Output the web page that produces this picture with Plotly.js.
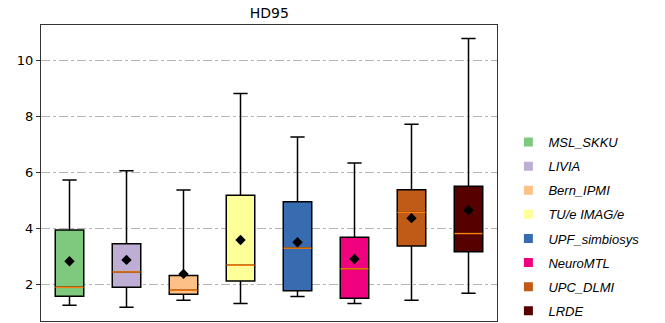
<!DOCTYPE html>
<html><head><meta charset="utf-8">
<script src="https://cdn.plot.ly/plotly-3.0.1.min.js"></script>
<style>html,body{margin:0;padding:0;background:#fff}#chart{width:665px;height:323px}</style>
</head><body><div id="chart"></div>
<script>
const teams = ["MSL_SKKU","LIVIA","Bern_IPMI","TU/e IMAG/e","UPF_simbiosys","NeuroMTL","UPC_DLMI","LRDE"];
const colors = ["#7fc97f","#beaed4","#fdc086","#ffff99","#386cb0","#f0027f","#bf5b17","#560000"];
const lowerFence = [1.25,1.18,1.43,1.31,1.56,1.31,1.43,1.68];
const q1 = [1.57,1.89,1.64,2.12,1.77,1.50,3.37,3.16];
const median = [1.89,2.44,1.79,2.68,3.29,2.55,4.57,3.81];
const q3 = [3.94,3.45,2.31,5.18,4.94,3.68,5.37,5.50];
const upperFence = [5.72,6.05,5.36,8.81,7.25,6.33,7.71,10.77];
const means = [2.82,2.87,2.37,3.58,3.50,2.90,4.36,4.64];
const positions = teams.map((_, i) => i + 1);

const traces = [];
teams.forEach((t, i) => {
  traces.push({
    type: "box", x: [positions[i]], q1: [q1[i]], median: [median[i]], q3: [q3[i]],
    lowerfence: [lowerFence[i]], upperfence: [upperFence[i]],
    fillcolor: colors[i], line: {color: "#000", width: 1.5},
    width: 0.5, whiskerwidth: 0.5, boxpoints: false, showlegend: false,
    hoverinfo: "skip", name: t
  });
});
// median lines
traces.push({
  type: "scatter", mode: "markers", x: positions, y: median, showlegend: false,
  marker: {symbol: "line-ew", size: 20, line: {color: "#ff7f0e", width: 1.5}}, hoverinfo: "skip"
});
// means
traces.push({
  type: "scatter", mode: "markers", x: positions, y: means, showlegend: false,
  marker: {symbol: "diamond", size: 8, color: "#000"}, hoverinfo: "skip"
});
// legend entries
teams.forEach((t, i) => {
  traces.push({
    type: "scatter", mode: "markers", x: [null], y: [null], name: t, legendgroup: "g" + i,
    marker: {symbol: "square", size: 9, color: colors[i]}, showlegend: true
  });
});

const layout = {
  width: 665, height: 323,
  margin: {l: 41, r: 168, t: 25, b: 2, autoexpand: false},
  paper_bgcolor: "#fff", plot_bgcolor: "#fff",
  title: {text: "HD95", x: 0.405, xanchor: "center", y: 0.96, yanchor: "middle",
          font: {family: "DejaVu Sans", size: 14, color: "#000"}},
  xaxis: {range: [0.5, 8.5], showticklabels: false, ticks: "", showgrid: false,
          zeroline: false, showline: true, mirror: true, linecolor: "#333", linewidth: 1},
  yaxis: {range: [0.69, 11.25], tickvals: [2,4,6,8,10], ticks: "outside", ticklen: 4,
          tickcolor: "#333", showgrid: true, gridcolor: "#b5b5b5", griddash: "dashdot",
          gridwidth: 1, zeroline: false, showline: true, mirror: true, linecolor: "#333",
          linewidth: 1, tickfont: {family: "DejaVu Sans", size: 13, color: "#000"}},
  showlegend: true,
  legend: {x: 1.025, xanchor: "left", y: 0.655, yanchor: "top", traceorder: "grouped",
           tracegroupgap: 4.2, font: {family: "Liberation Sans", size: 13, style: "italic", color: "#000"},
           itemwidth: 30, bgcolor: "rgba(0,0,0,0)"}
};
Plotly.newPlot("chart", traces, layout, {displayModeBar: false, staticPlot: true});
</script></body></html>
